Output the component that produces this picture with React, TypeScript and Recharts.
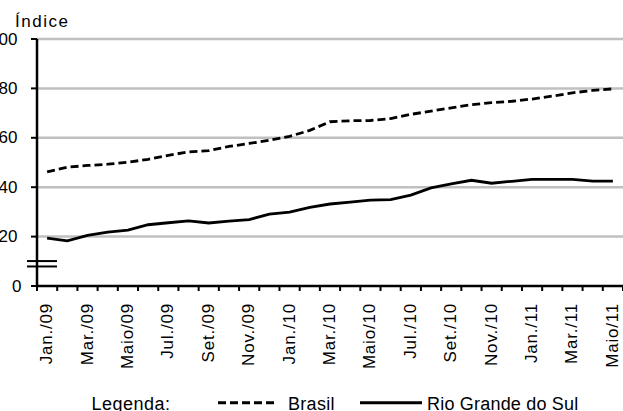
import React from 'react';
import { LineChart, Line, XAxis, YAxis, ReferenceLine } from 'recharts';

const months = [
  'Jan./09', 'Fev./09', 'Mar./09', 'Abr./09', 'Maio/09', 'Jun./09', 'Jul./09', 'Ago./09', 'Set./09', 'Out./09', 'Nov./09', 'Dez./09',
  'Jan./10', 'Fev./10', 'Mar./10', 'Abr./10', 'Maio/10', 'Jun./10', 'Jul./10', 'Ago./10', 'Set./10', 'Out./10', 'Nov./10', 'Dez./10',
  'Jan./11', 'Fev./11', 'Mar./11', 'Abr./11', 'Maio/11',
];

const brasil = [
  146.2, 148.1, 148.8, 149.3, 150.1, 151.3, 152.9, 154.3, 154.8, 156.5, 157.7, 159.0,
  160.6, 163.0, 166.5, 166.9, 167.0, 167.8, 169.5, 170.8, 172.1, 173.4, 174.2, 174.8,
  175.7, 176.9, 178.2, 179.2, 179.8,
];

const rioGrandeDoSul = [
  119.4, 118.3, 120.5, 121.8, 122.6, 124.8, 125.6, 126.4, 125.5, 126.3, 126.9, 129.1,
  129.9, 131.8, 133.2, 134.0, 134.8, 135.0, 136.8, 139.7, 141.3, 142.8, 141.6, 142.4,
  143.2, 143.2, 143.2, 142.5, 142.5,
];

const yTicks = [100, 109, 120, 140, 160, 180, 200];
const gridValues = [120, 140, 160, 180, 200];
const breakValue = 109;

const data = months.map((m, i) => ({ m, brasil: brasil[i], rs: rioGrandeDoSul[i] }));

const W = 623;
const H = 411;
const Y_AXIS_W = 37;
const PLOT_W = W - Y_AXIS_W;
const STEP = PLOT_W / months.length;
const AXIS_Y = 286;
const FONT = '"Liberation Sans", Arial, sans-serif';

const XTick = (props: any) => {
  const { x, index, payload } = props;
  const last = index === months.length - 1;
  return (
    <g>
      <line x1={x - STEP / 2} x2={x - STEP / 2} y1={AXIS_Y} y2={AXIS_Y + 5} stroke="#000" strokeWidth={2} />
      {last && <line x1={x + STEP / 2} x2={x + STEP / 2} y1={AXIS_Y} y2={AXIS_Y + 5} stroke="#000" strokeWidth={2} />}
      {index % 2 === 0 && (
        <text
          x={x - 0.5}
          y={AXIS_Y + 17}
          transform={`rotate(-90, ${x - 0.5}, ${AXIS_Y + 17})`}
          textAnchor="end"
          dominantBaseline="central"
          fontFamily={FONT}
          fontSize={17}
          letterSpacing={0.8}
          fill="#000"
        >
          {payload.value}
        </text>
      )}
    </g>
  );
};

const YTick = (props: any) => {
  const { y, payload } = props;
  const v = payload.value;
  if (v === breakValue) {
    return (
      <g>
        <line x1={27} x2={57} y1={y - 2.7} y2={y - 2.7} stroke="#000" strokeWidth={2} />
        <line x1={27} x2={57} y1={y + 2.7} y2={y + 2.7} stroke="#000" strokeWidth={2} />
      </g>
    );
  }
  const label = v === 100 ? '0' : String(v);
  return (
    <g>
      <line x1={Y_AXIS_W - 6} x2={Y_AXIS_W} y1={y} y2={y} stroke="#000" strokeWidth={2} />
      <text
        x={v === 100 ? 21.5 : 17.5}
        y={y}
        textAnchor="end"
        dominantBaseline="central"
        fontFamily={FONT}
        fontSize={17}
        fill="#000"
      >
        {label}
      </text>
    </g>
  );
};

export default function App() {
  return (
    <div style={{ position: 'absolute', left: 0, top: 0, width: W, height: H, overflow: 'hidden', background: '#fff' }}>
      <LineChart width={W} height={H} data={data} margin={{ top: 39, right: 0, left: 0, bottom: 45 }}>
        {gridValues.map((v) => (
          <ReferenceLine key={v} y={v} stroke="#c0c0c0" strokeWidth={2.5} />
        ))}
        <XAxis
          dataKey="m"
          scale="point"
          padding={{ left: STEP / 2, right: STEP / 2 }}
          interval={0}
          tickLine={false}
          axisLine={{ stroke: '#000', strokeWidth: 2.5 }}
          height={80}
          tick={<XTick />}
        />
        <YAxis
          type="number"
          domain={[100, 200]}
          ticks={yTicks}
          width={Y_AXIS_W}
          tickLine={false}
          axisLine={{ stroke: '#000', strokeWidth: 2.5 }}
          tick={<YTick />}
          interval={0}
        />
        <Line
          dataKey="brasil"
          stroke="#000"
          strokeWidth={2.8}
          strokeDasharray="8 4"
          dot={false}
          isAnimationActive={false}
          type="linear"
        />
        <Line
          dataKey="rs"
          stroke="#000"
          strokeWidth={2.8}
          dot={false}
          isAnimationActive={false}
          type="linear"
        />
      </LineChart>
      <svg width={W} height={H} style={{ position: 'absolute', left: 0, top: 0, pointerEvents: 'none' }}>
        <text x={15} y={26.5} fontFamily={FONT} fontSize={17} letterSpacing={1.5} fill="#000">Índice</text>
        <text x={91.5} y={409.5} fontFamily={FONT} fontSize={18} letterSpacing={0.5} fill="#000">Legenda:</text>
        <line x1={218} x2={277} y1={402.7} y2={402.7} stroke="#000" strokeWidth={3} strokeDasharray="8 4" />
        <text x={288} y={409.5} fontFamily={FONT} fontSize={18} letterSpacing={0.3} fill="#000">Brasil</text>
        <line x1={360} x2={422} y1={402.7} y2={402.7} stroke="#000" strokeWidth={3} />
        <text x={427} y={409.5} fontFamily={FONT} fontSize={18} letterSpacing={0.2} fill="#000">Rio Grande do Sul</text>
      </svg>
    </div>
  );
}
